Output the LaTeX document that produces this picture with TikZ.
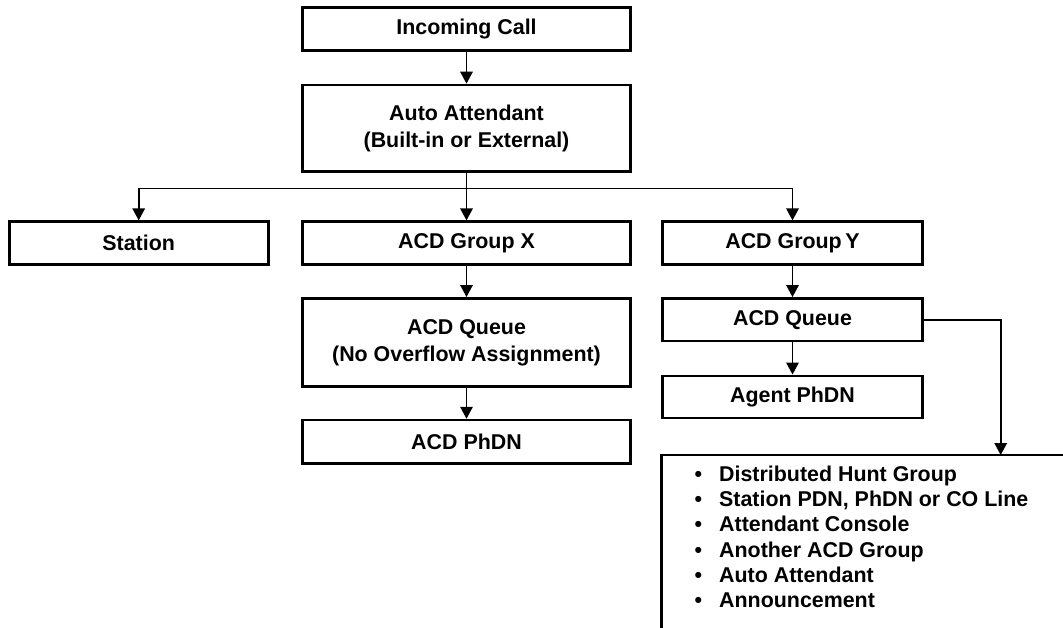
\documentclass[tikz,border=0pt]{standalone}
\usepackage{fontspec}
\setmainfont{Liberation Sans}
\usetikzlibrary{arrows.meta}
\tikzset{
  box/.style={draw, line width=2.6pt, rectangle, inner sep=0pt, align=center,
    font=\bfseries\fontsize{21.4}{27}\selectfont},
  conn/.style={line width=1.6pt, -{Triangle[length=12pt,width=12.5pt]}},
  plainline/.style={line width=1.6pt},
  item/.style={anchor=base west, inner sep=0pt, font=\bfseries\fontsize{21.4}{25}\selectfont},
}
\begin{document}
\begin{tikzpicture}[x=1pt,y=-1pt]
\useasboundingbox (0,0) rectangle (1063,627);
\clip (0,0) rectangle (1063,627);
% boxes
\node[box, minimum width=328pt, minimum height=43.4pt] (inc) at (466.5,29) {Incoming Call};
\node[box, minimum width=328pt, minimum height=86.7pt] (aa) at (466.5,128.3) {Auto Attendant\\(Built-in or External)};
\node[box, minimum width=259pt, minimum height=42.6pt] (station) at (138.7,243) {Station};
\node[box, minimum width=328pt, minimum height=42.6pt] (gx) at (466.5,243) {ACD Group X};
\node[box, minimum width=260pt, minimum height=42.6pt] (gy) at (792.5,243) {ACD Group\,Y};
\node[box, minimum width=328pt, minimum height=88.4pt] (qx) at (466.5,342.5) {ACD Queue\\(No Overflow Assignment)};
\node[box, minimum width=328pt, minimum height=43.3pt] (phx) at (466.5,441.7) {ACD PhDN};
\node[box, minimum width=260pt, minimum height=42.7pt] (qy) at (792.5,319.7) {ACD Queue};
\node[box, minimum width=260pt, minimum height=42.3pt] (agent) at (792.5,397) {Agent PhDN};
\node[box, anchor=north west, minimum width=500pt, minimum height=260pt] (ovf) at (660.4,453.7) {};
% list
\node[item] (b1) at (694.4,481.7) {\makebox[24.6pt][l]{•}Distributed Hunt Group};
\node[item] (b2) at (694.4,506.8) {\makebox[24.6pt][l]{•}Station PDN, PhDN or CO Line};
\node[item] (b3) at (694.4,531.9) {\makebox[24.6pt][l]{•}Attendant Console};
\node[item] (b4) at (694.4,557.0) {\makebox[24.6pt][l]{•}Another ACD Group};
\node[item] (b5) at (694.4,582.0) {\makebox[24.6pt][l]{•}Auto Attendant};
\node[item] (b6) at (694.4,607.0) {\makebox[24.6pt][l]{•}Announcement};
% connectors
\coordinate (bus) at (466.5,188.3);
\coordinate (ovfin) at (1000.7,455);
\draw[conn] (inc) -- (aa);
\draw[conn] (aa) -- (gx);
\draw[plainline] (station.north |- bus) -- (gy.north |- bus);
\draw[conn] (bus) -| (station.north);
\draw[conn] (bus) -| (gy.north);
\draw[conn] (gx) -- (qx);
\draw[conn] (qx) -- (phx);
\draw[conn] (gy) -- (qy);
\draw[conn] (qy) -- (agent);
\draw[conn] (qy.east) -| (ovfin);
\end{tikzpicture}
\end{document}
